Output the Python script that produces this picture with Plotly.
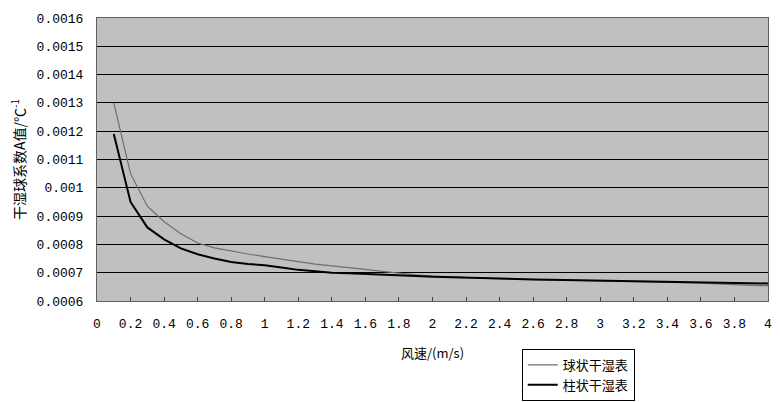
import plotly.graph_objects as go

# 风速 m/s
wind_speed = [0.1, 0.2, 0.3, 0.4, 0.5, 0.6, 0.7, 0.8, 0.9, 1.0,
              1.1, 1.2, 1.3, 1.4, 1.5, 1.6, 1.7, 1.8, 1.9, 2.0,
              2.1, 2.2, 2.3, 2.4, 2.5, 2.6, 2.7, 2.8, 2.9, 3.0,
              3.1, 3.2, 3.3, 3.4, 3.5, 3.6, 3.7, 3.8, 3.9, 4.0]

# 球状干湿表
a_ball = [0.00130, 0.00105, 0.000935, 0.000880, 0.000838, 0.000805, 0.000788, 0.000776, 0.000766, 0.000757,
          0.000748, 0.000738, 0.000730, 0.000724, 0.000719, 0.000712, 0.000705, 0.000698, 0.000692, 0.000688,
          0.000685, 0.000682, 0.000680, 0.000678, 0.000677, 0.000676, 0.000675, 0.000674, 0.000673, 0.000671,
          0.000670, 0.000669, 0.000668, 0.000667, 0.000665, 0.000663, 0.000660, 0.000657, 0.000655, 0.000654]

# 柱状干湿表
a_column = [0.00119, 0.000950, 0.000860, 0.000818, 0.000786, 0.000765, 0.000750, 0.000738, 0.000731, 0.000726,
            0.000718, 0.000710, 0.000705, 0.000700, 0.000698, 0.000695, 0.000692, 0.000690, 0.000688, 0.000686,
            0.000684, 0.000682, 0.000680, 0.000678, 0.000677, 0.000676, 0.000675, 0.000674, 0.000673, 0.000671,
            0.000670, 0.000669, 0.000668, 0.000667, 0.000666, 0.000665, 0.000664, 0.000663, 0.000663, 0.000662]

x_ticks = [0, 0.2, 0.4, 0.6, 0.8, 1, 1.2, 1.4, 1.6, 1.8, 2, 2.2, 2.4, 2.6, 2.8, 3, 3.2, 3.4, 3.6, 3.8, 4]
y_ticks = [0.0006, 0.0007, 0.0008, 0.0009, 0.001, 0.0011, 0.0012, 0.0013, 0.0014, 0.0015, 0.0016]
y_labels = ["0.0006", "0.0007", "0.0008", "0.0009", "0.001", "0.0011",
            "0.0012", "0.0013", "0.0014", "0.0015", "0.0016"]

cjk = "Noto Sans CJK SC"
mono = "Liberation Mono"

fig = go.Figure()
fig.add_trace(go.Scatter(x=wind_speed, y=a_ball, mode="lines", name="球状干湿表",
                         line=dict(color="#6e6e6e", width=1.2)))
fig.add_trace(go.Scatter(x=wind_speed, y=a_column, mode="lines", name="柱状干湿表",
                         line=dict(color="black", width=2)))

# the page body has an 8px margin, so shift everything up/left by 8px
fig.update_layout(
    width=780, height=402,
    margin=dict(l=89, r=20, t=10, b=108),
    paper_bgcolor="white",
    plot_bgcolor="#c0c0c0",
    font=dict(family=cjk, size=12, color="black"),
    legend=dict(x=0.633, y=-0.165, xanchor="left", yanchor="top",
                bgcolor="white", bordercolor="black", borderwidth=1,
                font=dict(family=cjk, size=13), tracegroupgap=0,
                itemwidth=30),
    showlegend=True,
)

fig.update_xaxes(
    range=[0, 4], tickvals=x_ticks,
    tickfont=dict(family=mono, size=13), ticklabelstandoff=10,
    showgrid=False, zeroline=False, automargin=False,
    ticks="inside", ticklen=4, tickcolor="#404040",
    showline=True, linecolor="#606060", linewidth=1, mirror=True,
    title=dict(text="风速/(m/s)", font=dict(family=cjk, size=13), standoff=18),
)
fig.update_yaxes(
    range=[0.0006, 0.0016], tickvals=y_ticks, ticktext=y_labels,
    tickfont=dict(family=mono, size=13), ticklabelstandoff=10,
    showgrid=True, gridcolor="black", gridwidth=1, zeroline=False, automargin=False,
    ticks="", showline=True, linecolor="#606060", linewidth=1, mirror=True,
    title=dict(text="干湿球系数A值/℃<sup>-1</sup>", font=dict(family=cjk, size=14), standoff=10),
)

fig.write_html("out.html")
